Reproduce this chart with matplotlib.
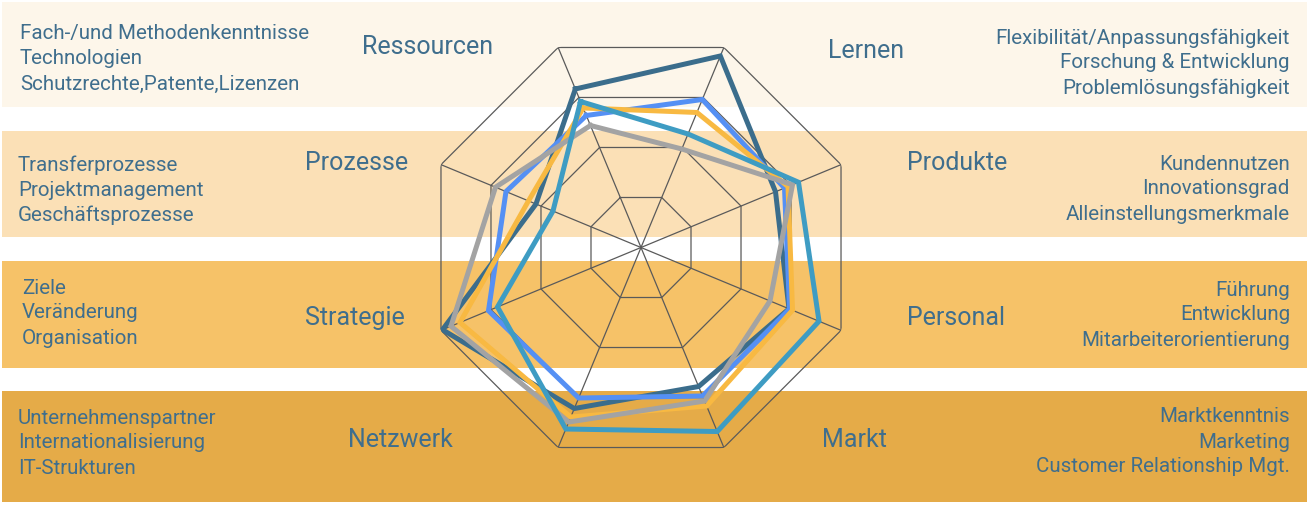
import numpy as np
import matplotlib
matplotlib.use("Agg")
import matplotlib.pyplot as plt

plt.rcParams['font.family'] = ['Roboto', 'DejaVu Sans']

# Kategorien im Uhrzeigersinn, beginnend oben links
categories = ['Ressourcen', 'Lernen', 'Produkte', 'Personal',
              'Markt', 'Netzwerk', 'Strategie', 'Prozesse']

# Werte (Skala 0..4)
series_dark = [3.17, 3.83, 2.69, 2.96, 2.78, 3.22, 3.97, 2.10]
series_blue = [2.64, 2.96, 2.87, 2.97, 2.97, 3.01, 3.05, 2.70]
series_orange = [2.79, 2.70, 2.94, 3.03, 3.17, 3.39, 3.62, 2.25]
series_gray = [2.44, 1.97, 3.03, 2.58, 3.07, 3.49, 3.80, 2.91]
series_teal = [2.92, 2.27, 3.15, 3.56, 3.68, 3.63, 2.87, 1.76]

series_colors = ['#3b6d8c', '#5590f4', '#f8b942', '#a3a3a3', '#3e9cc3']

# Beschreibungstexte links und rechts
left_notes = [
    ['Fach-/und Methodenkenntnisse', 'Technologien', 'Schutzrechte,Patente,Lizenzen'],
    ['Transferprozesse', 'Projektmanagement', 'Geschäftsprozesse'],
    ['Ziele', 'Veränderung', 'Organisation'],
    ['Unternehmenspartner', 'Internationalisierung', 'IT-Strukturen'],
]
right_notes = [
    ['Flexibilität/Anpassungsfähigkeit', 'Forschung & Entwicklung', 'Problemlösungsfähigkeit'],
    ['Kundennutzen', 'Innovationsgrad', 'Alleinstellungsmerkmale'],
    ['Führung', 'Entwicklung', 'Mitarbeiterorientierung'],
    ['Marktkenntnis', 'Marketing', 'Customer Relationship Mgt.'],
]

band_colors = ['#fdf6ea', '#fbe0b6', '#f6c268', '#e5ab48']
band_spans = [(2, 107), (131, 237), (261, 368), (391, 502)]
text_color = '#3f6e8d'

W, H = 1307, 505
fig = plt.figure(figsize=(W / 100, H / 100), dpi=100)

# Hintergrund in Pixelkoordinaten
bg = fig.add_axes([0, 0, 1, 1])
bg.set_xlim(0, W)
bg.set_ylim(H, 0)
bg.axis('off')
for (y0, y1), c in zip(band_spans, band_colors):
    bg.axhspan(y0, y1, xmin=2 / W, xmax=1, color=c, lw=0)

left_x = [20, 18, 22, 18]
left_y0 = [34, 165, 288, 418]
right_y0 = [38, 164, 290, 417]
for i in range(4):
    for j, line in enumerate(left_notes[i]):
        bg.text(left_x[i], left_y0[i] + 25 * j, line, fontsize=14.8, color=text_color,
                ha='left', va='center')
    for j, line in enumerate(right_notes[i]):
        bg.text(1290, right_y0[i] + 25 * j, line, fontsize=14.8, color=text_color,
                ha='right', va='center')

# Positionen der Kategorienamen
label_pos = {
    'Ressourcen': (362, 47, 'left'),
    'Lernen': (828, 51, 'left'),
    'Produkte': (907, 163, 'left'),
    'Personal': (907, 318, 'left'),
    'Markt': (822, 440, 'left'),
    'Netzwerk': (348, 440, 'left'),
    'Strategie': (305, 318, 'left'),
    'Prozesse': (305, 163, 'left'),
}
for name in categories:
    x, y, ha = label_pos[name]
    bg.text(x, y, name, fontsize=18, color=text_color, ha=ha, va='center')

# Netzdiagramm
cx, cy, R = 641, 247.5, 216.5
ax = fig.add_axes([(cx - R) / W, (H - cy - R) / H, 2 * R / W, 2 * R / H],
                  projection='polar')
ax.set_theta_offset(np.deg2rad(112.5))
ax.set_theta_direction(-1)
ax.set_ylim(0, 4)
ax.patch.set_alpha(0)
ax.spines['polar'].set_visible(False)
ax.grid(False)
ax.set_xticks([])
ax.set_yticks([])

n = len(categories)
angles = np.arange(n) * 2 * np.pi / n
closed = np.append(angles, angles[0])

for level in [1, 2, 3, 4]:
    ax.plot(closed, [level] * (n + 1), color='#5a5a5a', lw=0.9, zorder=1)
for a in angles:
    ax.plot([a, a], [0, 4], color='#5a5a5a', lw=0.9, zorder=1)

all_series = [series_dark, series_blue, series_orange, series_gray, series_teal]
for k, (vals, col) in enumerate(zip(all_series, series_colors)):
    v = np.append(vals, vals[0])
    ax.plot(closed, v, color=col, lw=3.6, zorder=3 + k, solid_joinstyle='miter')

fig.savefig('out.png', dpi=100)
